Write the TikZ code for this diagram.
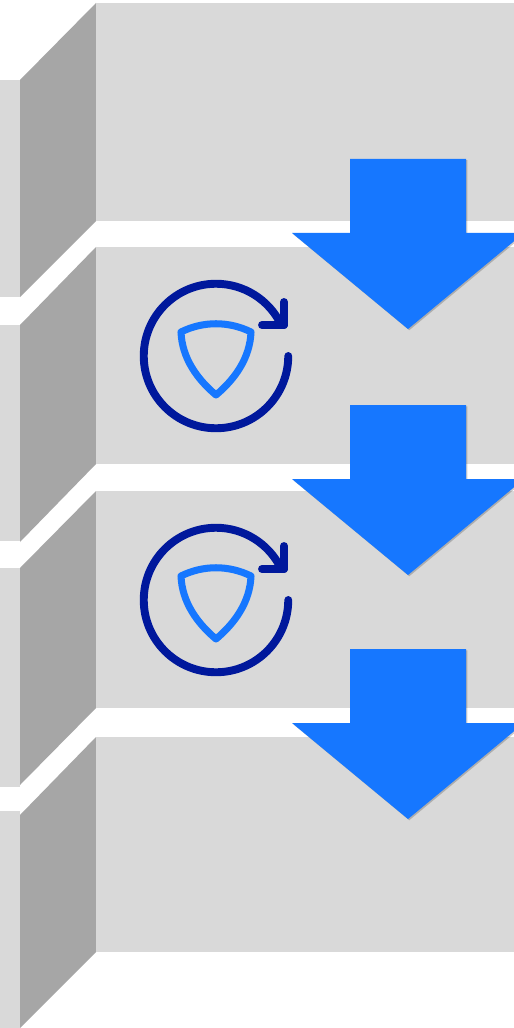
\documentclass[tikz,border=0pt]{standalone}
\usepackage{xcolor}
\usetikzlibrary{shadows}
\definecolor{panelgray}{HTML}{D9D9D9}
\definecolor{sidegray}{HTML}{A6A6A6}
\definecolor{brandblue}{HTML}{1677FF}
\definecolor{navyblue}{HTML}{00189C}
\begin{document}
\begin{tikzpicture}[
  panel/.style={fill=panelgray},
  sidewall/.style={fill=sidegray},
  ring/.style={draw=navyblue, line width=4.5pt, line cap=round, line join=round},
  shield/.style={draw=brandblue, line width=4pt, line join=round},
  downarrow/.style={fill=brandblue,
                    drop shadow={shadow xshift=0.025cm, shadow yshift=-0.025cm, fill=black, opacity=0.2}},
  refresh/.pic={
    \draw[ring] (1.445,0) arc (0:-334:1.445) -- (1.36,0.62);
    \draw[ring] (0.92,0.62) -- (1.36,0.62) -- (1.36,1.08);
    \draw[shield] (-0.70,0.48) .. controls (-0.26,0.70) and (0.26,0.70) .. (0.70,0.48)
      .. controls (0.68,-0.04) and (0.38,-0.46) .. (0,-0.78)
      .. controls (-0.38,-0.46) and (-0.68,-0.04) .. (-0.70,0.48) -- cycle;
  },
  flowarrow/.pic={
    \fill[downarrow] (-1.16,0) -- (1.16,0) -- (1.16,-1.48) -- (2.32,-1.48) -- (0,-3.40)
      -- (-2.32,-1.48) -- (-1.16,-1.48) -- cycle;
  },
]
  \clip (0,0) rectangle (10.28,-20.56);
  \fill[white] (0,0) rectangle (10.28,-20.56);

  % --- left strips ---------------------------------------------------
  \fill[panel] (0,-1.60) rectangle (0.40,-5.94);
  \fill[panel] (0,-6.50) rectangle (0.40,-10.82);
  \fill[panel] (0,-11.36) rectangle (0.40,-15.74);
  \fill[panel] (0,-16.22) rectangle (0.40,-20.56);

  % --- side walls ----------------------------------------------------
  \fill[sidewall] (1.92,-0.06) -- (1.92,-4.42) -- (0.40,-5.94) -- (0.40,-1.60) -- cycle;
  \fill[sidewall] (1.92,-4.94) -- (1.92,-9.28) -- (0.40,-10.84) -- (0.40,-6.50) -- cycle;
  \fill[sidewall] (1.92,-9.82) -- (1.92,-14.16) -- (0.40,-15.70) -- (0.40,-11.36) -- cycle;
  \fill[sidewall] (1.92,-14.74) -- (1.92,-19.04) -- (0.40,-20.56) -- (0.40,-16.30) -- cycle;

  % --- front panels --------------------------------------------------
  \fill[panel] (1.92,-0.06) rectangle (10.28,-4.42);
  \fill[panel] (1.92,-4.94) rectangle (10.28,-9.28);
  \fill[panel] (1.92,-9.82) rectangle (10.28,-14.16);
  \fill[panel] (1.92,-14.74) rectangle (10.28,-19.04);

  % --- icons ---------------------------------------------------------
  \pic at (4.32,-7.12) {refresh};
  \pic at (4.32,-12.00) {refresh};

  % --- arrows --------------------------------------------------------
  \pic at (8.16,-3.18) {flowarrow};
  \pic at (8.16,-8.10) {flowarrow};
  \pic at (8.16,-12.98) {flowarrow};
\end{tikzpicture}
\end{document}
